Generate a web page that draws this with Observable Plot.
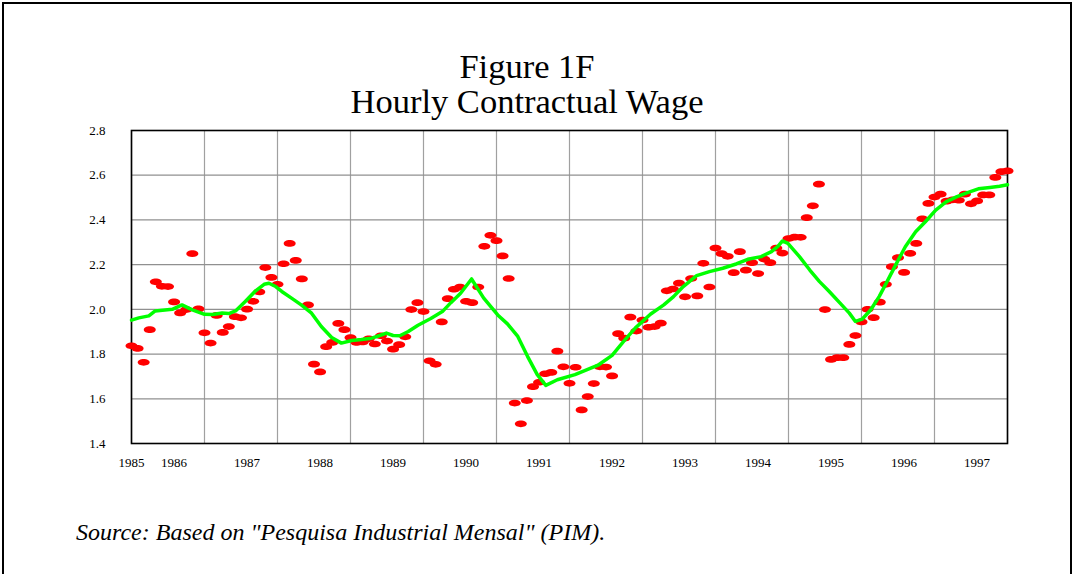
<!DOCTYPE html>
<html>
<head>
<meta charset="utf-8">
<script src="https://cdn.jsdelivr.net/npm/d3@7"></script>
<script src="https://cdn.jsdelivr.net/npm/@observablehq/plot@0.6"></script>
<style>
  html, body { margin: 0; padding: 0; background: #fff; }
  #page { position: relative; width: 1074px; height: 574px; overflow: hidden; background: #fff; font-family: "Liberation Serif", "Times New Roman", serif; }
  #border { position: absolute; left: 2px; top: 2px; width: 1066px; height: 600px; border: 2px solid #000; }
  .title { position: absolute; left: 0; width: 1054px; text-align: center; font-size: 34.5px; line-height: 34.5px; color: #000; }
  #source { position: absolute; left: 76px; top: 520px; font-size: 24px; line-height: 24px; font-style: italic; color: #000; }
  #chart { position: absolute; left: 0; top: 120px; }
</style>
</head>
<body>
<div id="page">
  <div id="border"></div>
  <div class="title" id="t1" style="top:49px">Figure 1F</div>
  <div class="title" id="t2" style="top:84px">Hourly Contractual Wage</div>
  <div id="chart"></div>
  <div id="source">Source: Based on "Pesquisa Industrial Mensal" (PIM).</div>
</div>
<script>
// Monthly observations, June 1985 .. June 1997 (index 0..144)
const wage = [
  1.837, 1.825, 1.763, 1.909, 2.123, 2.103, 2.102, 2.033, 1.984, 1.999, 2.249, 2.002, 1.895,
  1.849, 1.973, 1.897, 1.923, 1.967, 1.962, 2.001, 2.036, 2.078, 2.187, 2.143, 2.112,
  2.204, 2.295, 2.219, 2.136, 2.020, 1.755, 1.720, 1.833, 1.852, 1.937, 1.909, 1.874,
  1.852, 1.854, 1.868, 1.845, 1.882, 1.858, 1.822, 1.842, 1.877, 1.999, 2.030, 1.990,
  1.770, 1.754, 1.944, 2.048, 2.090, 2.099, 2.036, 2.030, 2.100, 2.282, 2.331, 2.307,
  2.239, 2.138, 1.581, 1.488, 1.592, 1.654, 1.674, 1.712, 1.718, 1.813, 1.743, 1.669,
  1.741, 1.550, 1.610, 1.668, 1.743, 1.742, 1.702, 1.891, 1.871, 1.965, 1.903, 1.952,
  1.920, 1.923, 1.938, 2.083, 2.091, 2.117, 2.056, 2.138, 2.060, 2.206, 2.100, 2.274,
  2.249, 2.237, 2.164, 2.258, 2.175, 2.209, 2.160, 2.225, 2.209, 2.274, 2.252, 2.317,
  2.323, 2.322, 2.410, 2.463, 2.560, 1.999, 1.776, 1.784, 1.784, 1.843, 1.883, 1.944,
  2.000, 1.963, 2.032, 2.112, 2.191, 2.231, 2.165, 2.250, 2.295, 2.405, 2.474, 2.502,
  2.515, 2.484, 2.490, 2.488, 2.515, 2.472, 2.485, 2.512, 2.512, 2.590, 2.616, 2.619
];

// Smoothed trend (month index, value)
const trendMonth = [0, 1.2, 2.85, 3.9, 6.7, 8.3, 10, 12, 13.3, 14.9, 16, 17.1, 18.7, 20.4, 21.8, 22.6, 23.7, 24.7,
  26.3, 27.9, 29.6, 31.2, 32.9, 34.5, 36.2, 37.8, 39.5, 40.8, 41.9, 43, 44.1, 45.5, 47.1, 49.2, 51.1, 52.5,
  54.1, 55.9, 57.9, 60.2, 61.8, 63.5, 65.1, 66.7, 68.1, 70, 72.9, 74.9, 76.8, 79, 80.9, 82.8, 85.3, 87.5,
  89.1, 90.7, 92.9, 95, 97.2, 99.4, 101.3, 103.5, 105.2, 106.3, 107, 107.9, 109.8, 111.5, 113.1, 114.7,
  116.4, 118, 119, 120.1, 121.5, 122.9, 124.2, 125.6, 127.2, 128.9, 130.5, 132.2, 133.9, 135.6, 137.3,
  139.2, 141.1, 142.7, 144];
const trendValue = [1.952, 1.962, 1.971, 1.993, 2.000, 2.020, 1.998, 1.978, 1.977, 1.984, 1.981, 1.993, 2.035, 2.083, 2.112, 2.117, 2.102, 2.080,
  2.050, 2.020, 1.983, 1.923, 1.874, 1.849, 1.861, 1.865, 1.871, 1.883, 1.894, 1.883, 1.882, 1.901, 1.929, 1.959, 1.990, 2.030,
  2.072, 2.136, 2.050, 1.975, 1.935, 1.879, 1.790, 1.708, 1.660, 1.685, 1.708, 1.730, 1.752, 1.794, 1.857, 1.916, 1.978, 2.020,
  2.057, 2.102, 2.151, 2.169, 2.184, 2.203, 2.224, 2.236, 2.258, 2.283, 2.306, 2.295, 2.236, 2.176, 2.124, 2.080,
  2.030, 1.983, 1.946, 1.956, 1.997, 2.057, 2.124, 2.198, 2.280, 2.347, 2.392, 2.444, 2.481, 2.503, 2.521,
  2.539, 2.545, 2.551, 2.557];

// Axis: year gridlines (every June), year labels
const gridMonths = [0, 12, 24, 36, 48, 60, 72, 84, 96, 108, 120, 132, 144];
const labelMonths = [0, 7, 19, 31, 43, 55, 67, 79, 91, 103, 115, 127, 139];
const labelYears = ["1985", "1986", "1987", "1988", "1989", "1990", "1991", "1992", "1993", "1994", "1995", "1996", "1997"];
const yTicks = [1.4, 1.6, 1.8, 2.0, 2.2, 2.4, 2.6, 2.8];

const ellipse = {
  draw(context, size) {
    const r = Math.sqrt(size / Math.PI);
    const rx = r, ry = r * 0.56, k = 0.5523;
    context.moveTo(rx, 0);
    context.bezierCurveTo(rx, ry * k, rx * k, ry, 0, ry);
    context.bezierCurveTo(-rx * k, ry, -rx, ry * k, -rx, 0);
    context.bezierCurveTo(-rx, -ry * k, -rx * k, -ry, 0, -ry);
    context.bezierCurveTo(rx * k, -ry, rx, -ry * k, rx, 0);
    context.closePath();
  }
};

const trend = trendMonth.map((m, i) => ({m, v: trendValue[i]}));
const labelMap = new Map(labelMonths.map((m, i) => [m, labelYears[i]]));

const chart = Plot.plot({
  width: 1074,
  height: 360,
  marginTop: 10,
  marginBottom: 37,
  marginLeft: 131,
  marginRight: 67,
  style: {fontFamily: "'Liberation Serif', 'Times New Roman', serif", background: "transparent"},
  x: {domain: [0, 144], axis: null},
  y: {domain: [1.4, 2.8], axis: null},
  marks: [
    Plot.gridX(gridMonths, {stroke: "#a0a0a0", strokeOpacity: 1, strokeWidth: 1.2}),
    Plot.gridY(yTicks, {stroke: "#909090", strokeOpacity: 1, strokeWidth: 1.2}),
    Plot.axisY(yTicks, {tickSize: 0, tickPadding: 26, tickFormat: d3.format(".1f"), fontSize: 13, fill: "#000", label: null}),
    Plot.axisX(labelMonths, {tickSize: 0, tickPadding: 14, tickFormat: d => labelMap.get(d), fontSize: 13, fill: "#000", label: null}),
    Plot.frame({stroke: "#000", strokeWidth: 1.6}),
    Plot.dot(wage, {x: (d, i) => i, y: d => d, symbol: ellipse, r: 6, fill: "#ff0000", stroke: "none"}),
    Plot.line(trend, {x: "m", y: "v", stroke: "#00ff00", strokeWidth: 3.5, curve: "linear"})
  ]
});
document.getElementById("chart").appendChild(chart);
</script>
</body>
</html>
